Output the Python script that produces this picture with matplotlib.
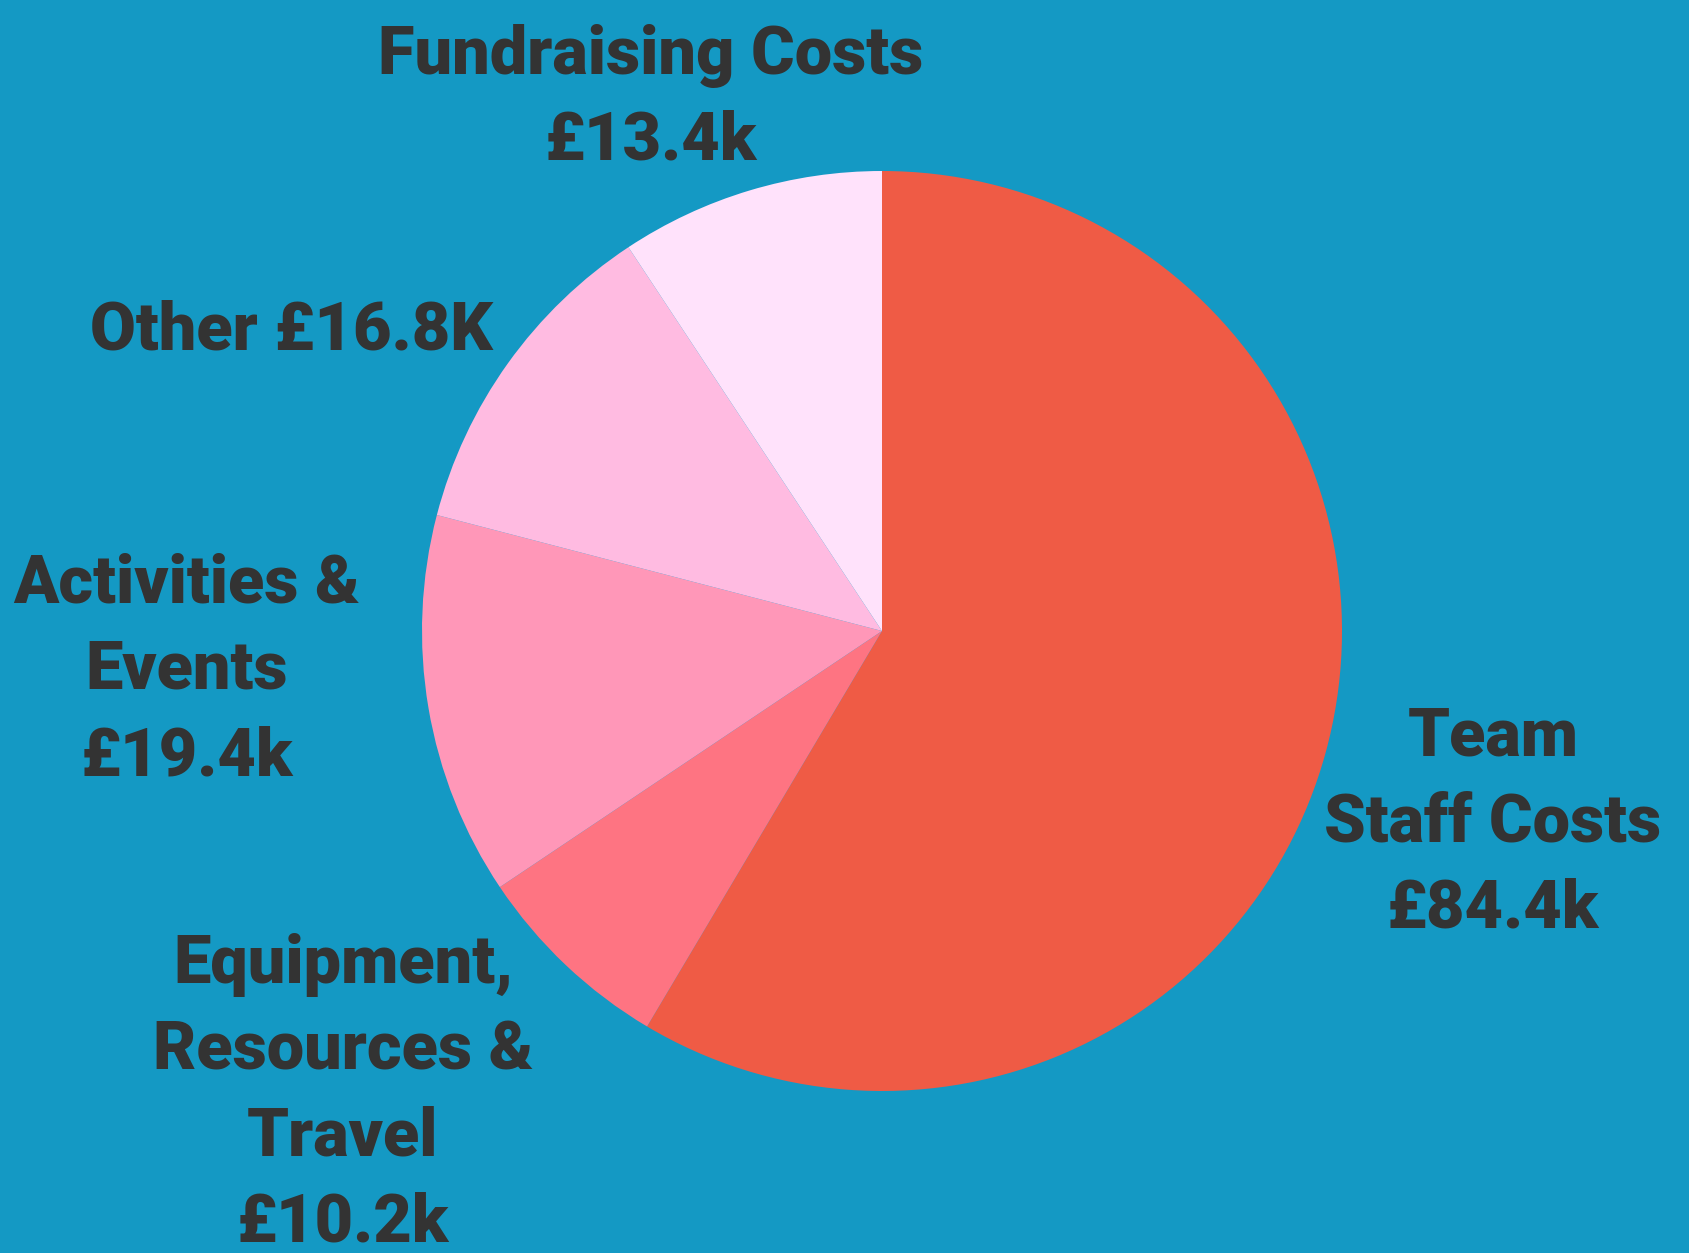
import matplotlib.pyplot as plt

# expenditure breakdown (in £k), clockwise from 12 o'clock
categories = ['Team Staff Costs', 'Equipment, Resources & Travel',
              'Activities & Events', 'Other', 'Fundraising Costs']
values = [84.4, 10.2, 19.4, 16.8, 13.4]
colors = ['#EF5B45', '#FE7482', '#FF97B8', '#FFBBE1', '#FFE2FB']

# label lines as shown on the chart
label_lines = [
    ['Team', 'Staff Costs', '£84.4k'],
    ['Equipment,', 'Resources &', 'Travel', '£10.2k'],
    ['Activities &', 'Events', '£19.4k'],
    ['Other £16.8K'],
    ['Fundraising Costs', '£13.4k'],
]

BG = '#1499C4'
TXT = '#333333'

W, H = 1690, 1253
fig = plt.figure(figsize=(W / 100, H / 100), dpi=100, facecolor=BG)
ax = fig.add_axes([0, 0, 1, 1])
ax.set_facecolor(BG)

ax.pie(values, colors=colors, startangle=90, counterclock=False,
       center=(882, 622), radius=460,
       wedgeprops={'linewidth': 0, 'antialiased': True})

ax.set_xlim(0, W)
ax.set_ylim(0, H)
ax.set_aspect('equal')
ax.axis('off')

fam = ['Roboto', 'DejaVu Sans']
# (center x, y of first line) for each label block, in pixels
anchors = [(1493, 515), (343, 288), (187, 668), (291, 921), (651, 1197)]
step = 86
for lines, (x, y0) in zip(label_lines, anchors):
    for i, line in enumerate(lines):
        ax.text(x, y0 - i * step, line, ha='center', va='center',
                fontsize=48, fontweight='black', color=TXT, family=fam)

fig.savefig('out.png', dpi=100, facecolor=BG)
